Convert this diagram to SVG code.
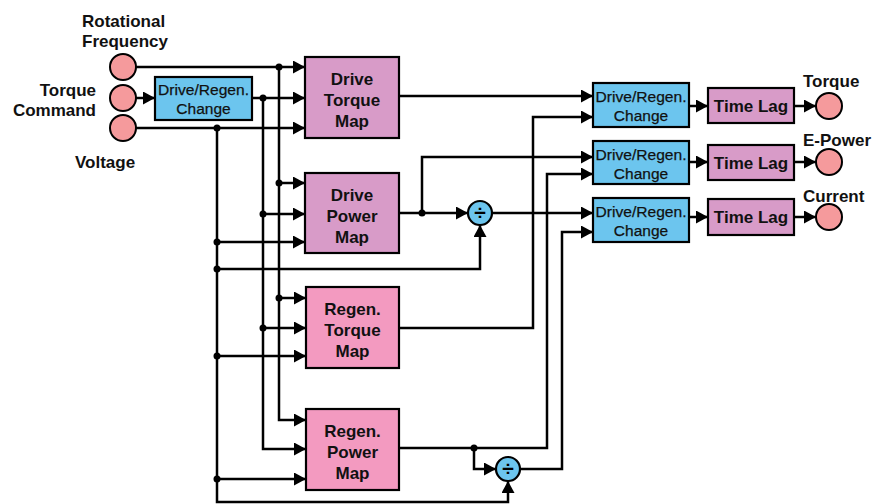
<svg xmlns="http://www.w3.org/2000/svg" width="874" height="504" viewBox="0 0 874 504">
<style>
.bg{fill:#ffffff}
.w{fill:none;stroke:#000;stroke-width:2.5;stroke-linejoin:miter}
.a{marker-end:url(#arr)}
.dot{fill:#000}
.io{fill:#F59A9C;stroke:#000;stroke-width:2}
.blue{fill:#6CC5EE;stroke:#000;stroke-width:2.2}
.mauve{fill:#D89BC8;stroke:#000;stroke-width:2.2}
.pink{fill:#F39AC0;stroke:#000;stroke-width:2.2}
.lbl{font-family:"Liberation Sans",Arial,sans-serif;font-weight:bold;font-size:17px;fill:#111}
.bt{font-family:"Liberation Sans",Arial,sans-serif;font-weight:bold;font-size:17px;fill:#111;text-anchor:middle}
.ct{font-family:"Liberation Sans",Arial,sans-serif;font-size:15.5px;fill:#111;stroke:#111;stroke-width:0.25;text-anchor:middle}
.dv{font-family:"Liberation Sans",Arial,sans-serif;font-weight:bold;font-size:21px;fill:#000;text-anchor:middle}
</style>
<defs>
<marker id="arr" markerUnits="userSpaceOnUse" markerWidth="13" markerHeight="13" refX="12" refY="6.5" orient="auto">
<path d="M0,0 L12,6.5 L0,13 z" fill="#000"/>
</marker>
</defs>
<rect class="bg" x="0" y="0" width="874" height="504"/>

<g id="connectors">
<path class="w a" d="M136,67 H305"/>
<path class="w a" d="M136,98 H155"/>
<path class="w a" d="M252,98 H305"/>
<path class="w a" d="M136,128 H305"/>
<path class="w a" d="M279,67 V420 H306"/>
<path class="w a" d="M279,183 H305"/>
<path class="w a" d="M279,298 H306"/>
<path class="w a" d="M263,98 V449 H306"/>
<path class="w a" d="M263,214 H305"/>
<path class="w a" d="M263,328 H306"/>
<path class="w a" d="M217,128 V502 H508 V481"/>
<path class="w a" d="M217,242 H305"/>
<path class="w a" d="M217,269 H480 V225"/>
<path class="w a" d="M217,356 H306"/>
<path class="w a" d="M217,479 H306"/>
<path class="w a" d="M399,96 H593"/>
<path class="w a" d="M399,213 H468"/>
<path class="w a" d="M422,213 V157 H593"/>
<path class="w a" d="M492,213 H593"/>
<path class="w a" d="M399,328 H533 V117 H593"/>
<path class="w a" d="M399,448 H547 V174 H593"/>
<path class="w a" d="M474,448 V469 H496"/>
<path class="w a" d="M520,469 H562 V232 H593"/>
<path class="w a" d="M689,106 H708"/>
<path class="w a" d="M689,162 H708"/>
<path class="w a" d="M689,217 H708"/>
<path class="w a" d="M794,106 H816"/>
<path class="w a" d="M794,162 H816"/>
<path class="w a" d="M794,217 H816"/>
<circle class="dot" cx="279" cy="67" r="3.5"/>
<circle class="dot" cx="263" cy="98" r="3.5"/>
<circle class="dot" cx="217" cy="128" r="3.5"/>
<circle class="dot" cx="279" cy="183" r="3.5"/>
<circle class="dot" cx="263" cy="214" r="3.5"/>
<circle class="dot" cx="217" cy="242" r="3.5"/>
<circle class="dot" cx="217" cy="269" r="3.5"/>
<circle class="dot" cx="279" cy="298" r="3.5"/>
<circle class="dot" cx="263" cy="328" r="3.5"/>
<circle class="dot" cx="217" cy="356" r="3.5"/>
<circle class="dot" cx="217" cy="479" r="3.5"/>
<circle class="dot" cx="422" cy="213" r="3.5"/>
<circle class="dot" cx="474" cy="448" r="3.5"/>
</g>

<g id="in-rot">
<circle class="io" cx="123" cy="67" r="13"/>
<text class="lbl" x="82" y="27">Rotational</text>
<text class="lbl" x="82" y="47">Frequency</text>
</g>
<g id="in-torque">
<circle class="io" cx="123" cy="98" r="13"/>
<text class="lbl" x="96" y="96" text-anchor="end">Torque</text>
<text class="lbl" x="96" y="116" text-anchor="end">Command</text>
</g>
<g id="in-voltage">
<circle class="io" cx="123" cy="128" r="13"/>
<text class="lbl" x="75" y="168">Voltage</text>
</g>

<g id="change-in">
<rect class="blue" x="155" y="77" width="97" height="43"/>
<text class="ct" x="203.5" y="95" textLength="91" lengthAdjust="spacingAndGlyphs">Drive/Regen.</text>
<text class="ct" x="203.5" y="114">Change</text>
</g>

<g id="drive-torque-map">
<rect class="mauve" x="305" y="57" width="94" height="81"/>
<text class="bt" x="352" y="85">Drive</text>
<text class="bt" x="352" y="106">Torque</text>
<text class="bt" x="352" y="127">Map</text>
</g>
<g id="drive-power-map">
<rect class="mauve" x="305" y="173" width="94" height="80"/>
<text class="bt" x="352" y="201">Drive</text>
<text class="bt" x="352" y="222">Power</text>
<text class="bt" x="352" y="243">Map</text>
</g>
<g id="regen-torque-map">
<rect class="pink" x="306" y="287" width="93" height="81"/>
<text class="bt" x="352.5" y="315">Regen.</text>
<text class="bt" x="352.5" y="336">Torque</text>
<text class="bt" x="352.5" y="357">Map</text>
</g>
<g id="regen-power-map">
<rect class="pink" x="306" y="409" width="93" height="81"/>
<text class="bt" x="352.5" y="437">Regen.</text>
<text class="bt" x="352.5" y="458">Power</text>
<text class="bt" x="352.5" y="479">Map</text>
</g>

<g id="div1">
<circle class="blue" cx="480" cy="213" r="12"/>
<text class="dv" x="480" y="220">÷</text>
</g>
<g id="div2">
<circle class="blue" cx="508" cy="469" r="12"/>
<text class="dv" x="508" y="476">÷</text>
</g>

<g id="change-1">
<rect class="blue" x="593" y="83" width="96" height="44"/>
<text class="ct" x="641" y="102" textLength="91" lengthAdjust="spacingAndGlyphs">Drive/Regen.</text>
<text class="ct" x="641" y="121">Change</text>
</g>
<g id="change-2">
<rect class="blue" x="593" y="141" width="96" height="43"/>
<text class="ct" x="641" y="160" textLength="91" lengthAdjust="spacingAndGlyphs">Drive/Regen.</text>
<text class="ct" x="641" y="179">Change</text>
</g>
<g id="change-3">
<rect class="blue" x="593" y="198" width="96" height="44"/>
<text class="ct" x="641" y="217" textLength="91" lengthAdjust="spacingAndGlyphs">Drive/Regen.</text>
<text class="ct" x="641" y="236">Change</text>
</g>

<g id="lag-1">
<rect class="mauve" x="708" y="88" width="86" height="35"/>
<text class="bt" x="751" y="112">Time Lag</text>
</g>
<g id="lag-2">
<rect class="mauve" x="708" y="145" width="86" height="35"/>
<text class="bt" x="751" y="169">Time Lag</text>
</g>
<g id="lag-3">
<rect class="mauve" x="708" y="199" width="86" height="36"/>
<text class="bt" x="751" y="223">Time Lag</text>
</g>

<g id="out-torque">
<circle class="io" cx="829" cy="106" r="13"/>
<text class="lbl" x="803" y="87">Torque</text>
</g>
<g id="out-epower">
<circle class="io" cx="829" cy="162" r="13"/>
<text class="lbl" x="803" y="146">E-Power</text>
</g>
<g id="out-current">
<circle class="io" cx="829" cy="217" r="13"/>
<text class="lbl" x="803" y="202">Current</text>
</g>
</svg>
